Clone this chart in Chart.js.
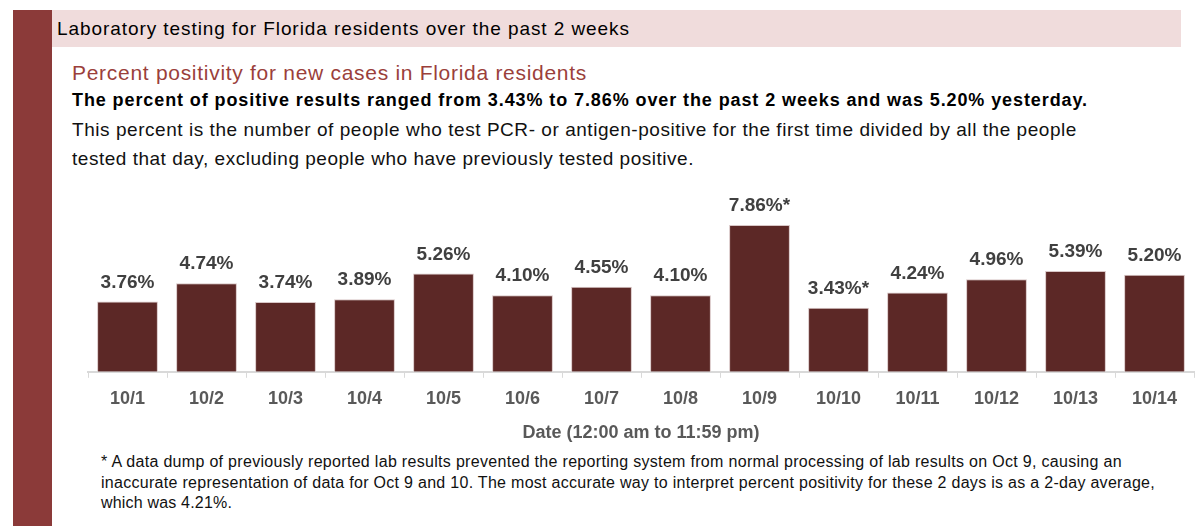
<!DOCTYPE html>
<html lang="en">
<head>
    <meta charset="UTF-8">
    <title>Laboratory testing for Florida residents</title>
    <script src="https://cdn.jsdelivr.net/npm/chart.js"></script>
    <style>
        body { margin: 0; width: 1200px; height: 526px; overflow: hidden; background: #fff;
               font-family: "Liberation Sans", Arial, sans-serif; position: relative; }
        .side-bar { position: absolute; left: 13px; top: 10px; width: 39px; height: 516px; background: #8b3a39; }
        .band { position: absolute; left: 52px; top: 10px; width: 1129px; height: 37px; background: #f0dcdc; }
        .line { position: absolute; white-space: nowrap; line-height: 1; transform: translateY(-50%); }
        #chartBox { position: absolute; left: 60px; top: 180px; }
    </style>
</head>
<body>
    <div class="side-bar"></div>
    <div class="band"></div>

    <div class="line" data-w="573" style="left:57px; top:28px; font-size:19px; color:#000;">Laboratory testing for Florida residents over the past 2 weeks</div>
    <div class="line" data-w="515" style="left:72px; top:72px; font-size:21px; color:#9b3f3b;">Percent positivity for new cases in Florida residents</div>
    <div class="line" data-w="1016" style="left:72px; top:100px; font-size:18px; font-weight:bold; color:#000;">The percent of positive results ranged from 3.43% to 7.86% over the past 2 weeks and was 5.20% yesterday.</div>
    <div class="line" data-w="1005" style="left:72px; top:129px; font-size:19px; color:#111;">This percent is the number of people who test PCR- or antigen-positive for the first time divided by all the people</div>
    <div class="line" data-w="622" style="left:72px; top:158px; font-size:19px; color:#111;">tested that day, excluding people who have previously tested positive.</div>

    <div id="chartBox"><canvas id="chart" width="1140" height="264"></canvas></div>

    <div class="line" data-w="1021" style="left:101px; top:462px; font-size:16px; color:#111;">* A data dump of previously reported lab results prevented the reporting system from normal processing of lab results on Oct 9, causing an</div>
    <div class="line" data-w="1054" style="left:101px; top:483px; font-size:16px; color:#111;">inaccurate representation of data for Oct 9 and 10. The most accurate way to interpret percent positivity for these 2 days is as a 2-day average,</div>
    <div class="line" data-w="131" style="left:101px; top:503px; font-size:16px; color:#111;">which was 4.21%.</div>

    <script>
        // data
        const dates = ['10/1', '10/2', '10/3', '10/4', '10/5', '10/6', '10/7',
                       '10/8', '10/9', '10/10', '10/11', '10/12', '10/13', '10/14'];
        const positivity = [3.76, 4.74, 3.74, 3.89, 5.26, 4.10, 4.55,
                            4.10, 7.86, 3.43, 4.24, 4.96, 5.39, 5.20];
        const flaggedDates = ['10/9', '10/10'];
        const axisTitle = 'Date (12:00 am to 11:59 pm)';

        // stretch each text line to the width it has in the original
        document.querySelectorAll('.line').forEach(el => {
            const target = +el.dataset.w;
            const n = el.textContent.length;
            const diff = target - el.getBoundingClientRect().width;
            el.style.letterSpacing = (diff / n).toFixed(3) + 'px';
        });

        // value labels above the bars
        const barLabels = {
            id: 'barLabels',
            afterDatasetsDraw(chart) {
                const ctx = chart.ctx;
                const meta = chart.getDatasetMeta(0);
                ctx.save();
                ctx.font = 'bold 19px "Liberation Sans", Arial, sans-serif';
                ctx.fillStyle = '#404040';
                ctx.textAlign = 'center';
                ctx.textBaseline = 'middle';
                meta.data.forEach((bar, i) => {
                    let txt = positivity[i].toFixed(2) + '%';
                    if (flaggedDates.includes(dates[i])) txt += '*';
                    ctx.fillText(txt, bar.x, bar.y - 19);
                });
                ctx.restore();
            }
        };

        const tickFont = { family: '"Liberation Sans", Arial, sans-serif', size: 18, weight: 'bold' };

        new Chart(document.getElementById('chart'), {
            type: 'bar',
            data: {
                labels: dates,
                datasets: [{
                    data: positivity,
                    backgroundColor: '#5c2826',
                    borderColor: '#d8c6c6',
                    borderWidth: 1,
                    categoryPercentage: 1,
                    barPercentage: 0.77
                }]
            },
            options: {
                responsive: false,
                animation: false,
                layout: { padding: { left: 28, right: 6, top: 5, bottom: 0 } },
                plugins: { legend: { display: false }, tooltip: { enabled: false } },
                scales: {
                    x: {
                        offset: true,
                        grid: { offset: true, drawOnChartArea: false, tickLength: 6, color: '#d9d9d9' },
                        border: { color: '#d9d9d9', width: 2 },
                        ticks: { color: '#595959', font: tickFont, padding: 10, maxRotation: 0, autoSkip: false },
                        title: { display: true, text: axisTitle, color: '#595959', font: tickFont,
                                 padding: { top: 3, bottom: 0 } }
                    },
                    y: { display: false, min: 0, max: 10 }
                }
            },
            plugins: [barLabels]
        });
    </script>
</body>
</html>
